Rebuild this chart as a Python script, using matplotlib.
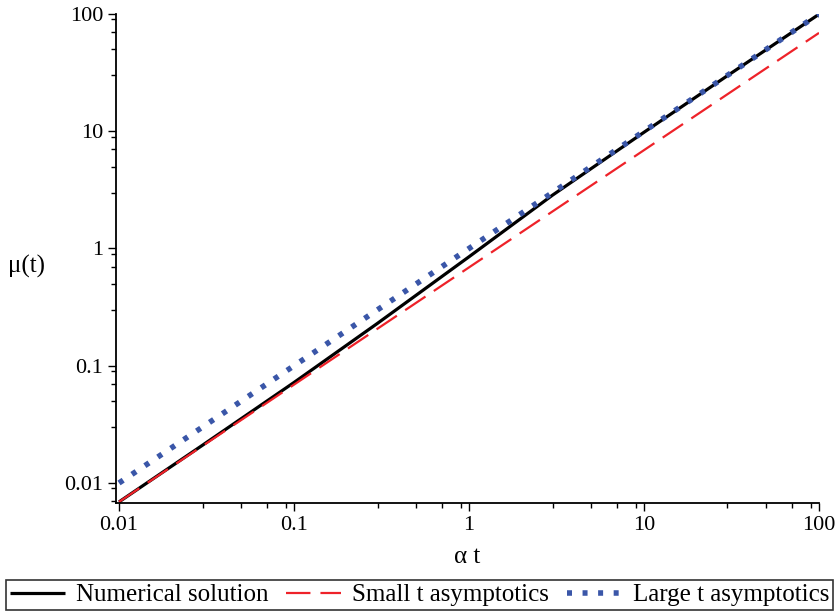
import matplotlib
matplotlib.use('Agg')
import matplotlib.pyplot as plt
from matplotlib.ticker import FixedLocator, NullFormatter
import numpy as np

plt.rcParams['font.family'] = ['Liberation Serif', 'DejaVu Serif']

# values (log-log)
t_num = [0.01, 0.03, 0.1, 0.3, 1, 3, 10, 30, 100]
mu_num = [0.0069, 0.021, 0.072, 0.23, 0.85, 2.85, 9.8, 29.8, 99.5]

t_small = [0.01, 100]
mu_small = [0.0069, 69]

t_large = [0.01, 100]
mu_large = [0.01, 100]

labels = ['Numerical solution', 'Small t asymptotics', 'Large t asymptotics']
tick_vals = [0.01, 0.1, 1, 10, 100]
tick_text = ['0.01', '0.1', '1', '10', '100']

fig = plt.figure(figsize=(8.39, 6.13), dpi=100)
ax = fig.add_axes([116/839, 1 - 503/613, (819 - 116)/839, (503 - 14)/613])

l1, = ax.plot(t_num, mu_num, color='black', lw=2.3, solid_capstyle='butt')
l2, = ax.plot(t_small, mu_small, color='#ee2229', lw=1.6, dashes=(11, 4.5))
l3, = ax.plot(t_large, mu_large, color='#3a56a8', lw=4.0, dashes=(0.9, 1.9))

ax.set_xscale('log')
ax.set_yscale('log')
ax.set_xlim(0.00961, 100)
ax.set_ylim(0.00675, 100)

minors = [m * 10.0**e for e in range(-3, 3) for m in (3, 5, 7, 9)]
ax.xaxis.set_major_locator(FixedLocator(tick_vals))
ax.yaxis.set_major_locator(FixedLocator(tick_vals))
ax.set_xticklabels(tick_text)
ax.set_yticklabels(tick_text)
ax.xaxis.set_minor_locator(FixedLocator(minors))
ax.yaxis.set_minor_locator(FixedLocator(minors))
ax.xaxis.set_minor_formatter(NullFormatter())
ax.yaxis.set_minor_formatter(NullFormatter())

for s in ['top', 'right']:
    ax.spines[s].set_visible(False)
for s in ['left', 'bottom']:
    ax.spines[s].set_linewidth(1.3)

ax.tick_params(which='major', direction='out', length=6, width=1.0, labelsize=16, pad=3)
ax.tick_params(which='minor', direction='out', length=3.5, width=1.0)

ax.set_xlabel('α t', fontsize=18)
ax.xaxis.set_label_coords(0.5, -0.088)
ax.set_ylabel('μ(t)', fontsize=18, rotation=0)
ax.yaxis.set_label_coords(-0.128, 0.46)

leg = fig.legend([l1, l2, l3], labels, loc='lower center', ncol=3,
                 bbox_to_anchor=(0.5, 3/613),
                 fontsize=18, frameon=True, fancybox=False, handlelength=2.2,
                 handletextpad=0.45, columnspacing=0.7, borderpad=0.15,
                 borderaxespad=0)
leg.get_frame().set_edgecolor('black')
leg.get_frame().set_linewidth(1.2)

fig.savefig('out.png', dpi=100)
